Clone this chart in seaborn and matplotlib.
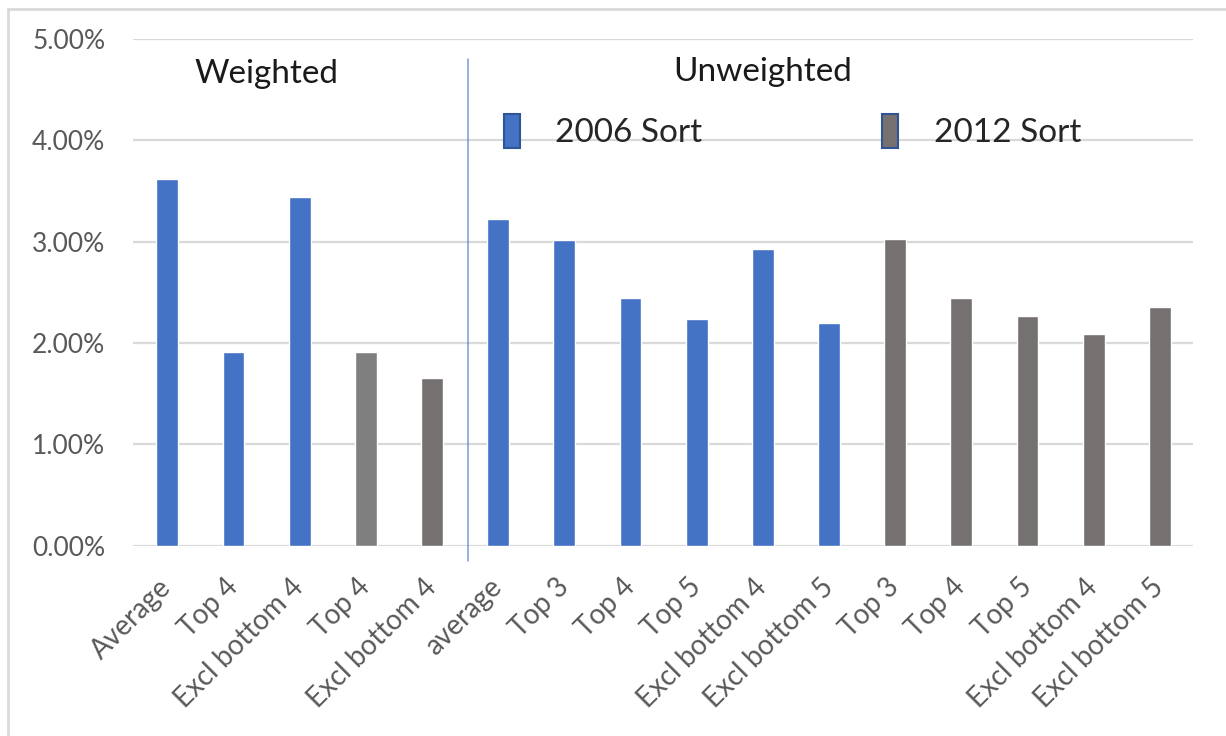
import matplotlib
matplotlib.use("Agg")
import matplotlib.pyplot as plt
from matplotlib.patches import Patch, Rectangle
import pandas as pd
import seaborn as sns

# data
labels = ["Average", "Top 4", "Excl bottom 4", "Top 4", "Excl bottom 4",
          "average", "Top 3", "Top 4", "Top 5", "Excl bottom 4", "Excl bottom 5",
          "Top 3", "Top 4", "Top 5", "Excl bottom 4", "Excl bottom 5"]
values = [0.0362, 0.0191, 0.0344, 0.0191, 0.0165,
          0.0322, 0.0302, 0.0244, 0.0224, 0.0293, 0.0220,
          0.0303, 0.0244, 0.0227, 0.0209, 0.0235]
sort_year = ["2006 Sort", "2006 Sort", "2006 Sort", "2012 Sort", "2012 Sort",
             "2006 Sort", "2006 Sort", "2006 Sort", "2006 Sort", "2006 Sort", "2006 Sort",
             "2012 Sort", "2012 Sort", "2012 Sort", "2012 Sort", "2012 Sort"]
bar_colors = ["#4472C4", "#4472C4", "#4472C4", "#7F7F7F", "#767171",
              "#4472C4", "#4472C4", "#4472C4", "#4472C4", "#4472C4", "#4472C4",
              "#767171", "#767171", "#767171", "#767171", "#767171"]
yticks = [0.0, 0.01, 0.02, 0.03, 0.04, 0.05]

df = pd.DataFrame({"pos": [str(i) for i in range(len(labels))],
                   "label": labels, "value": values, "sort": sort_year})

sns.set_style("white")
plt.rcParams["font.family"] = ["Lato", "DejaVu Sans"]

fig = plt.figure(figsize=(12.26, 7.36), dpi=100)
ax = fig.add_axes([133 / 1226, 1 - 545.5 / 736, (1193 - 133) / 1226, (545.5 - 39) / 736])

sns.barplot(data=df, x="pos", y="value", hue="pos", palette=bar_colors,
            dodge=False, width=0.33, legend=False, ax=ax, saturation=1)

ax.set_ylim(0, 0.05)
ax.set_xlim(-0.52, 15.5)
ax.set_yticks(yticks)
ax.set_yticklabels([f"{v:.2%}" for v in yticks])
ax.set_xticks(range(len(labels)))
ax.set_xticklabels(labels, rotation=45, ha="right", va="center", rotation_mode="anchor")
ax.tick_params(axis="x", length=0, pad=27, labelsize=20, labelcolor="#595959")
ax.tick_params(axis="y", length=0, pad=20, labelsize=19, labelcolor="#595959")
ax.set_xlabel("")
ax.set_ylabel("")
ax.grid(axis="y", color="#D9D9D9", linewidth=1.6)
ax.set_axisbelow(True)
for s in ax.spines.values():
    s.set_visible(False)

# separator between weighted and unweighted groups
ax.plot([4.55, 4.55], [-0.0015, 0.048], color="#4472C4", alpha=0.7, lw=1.1, clip_on=False)

ax.text(1.49, 0.0465, "Weighted", ha="center", va="center", fontsize=24, color="#1a1a1a")
ax.text(8.99, 0.0467, "Unweighted", ha="center", va="center", fontsize=24, color="#1a1a1a")

handles = [Patch(facecolor="#4472C4", edgecolor="#2F5597", lw=1.5, label="2006 Sort"),
           Patch(facecolor="#767171", edgecolor="#2F5597", lw=1.5, label="2012 Sort")]
fig.legend(handles=handles, loc="center left", bbox_to_anchor=(504 / 1226, 1 - 131 / 736),
           ncol=2, frameon=False, fontsize=24, handlelength=0.48, handleheight=1.18,
           handletextpad=1.06, columnspacing=5.4, borderpad=0, borderaxespad=0)

# light outer frame like the source image
fig.patches.append(Rectangle((8 / 1226, -0.05), 1.2, 1 - 9 / 736 + 0.05, transform=fig.transFigure,
                             fill=False, edgecolor="#D9D9D9", lw=2))

fig.savefig("out.png", dpi=100)
